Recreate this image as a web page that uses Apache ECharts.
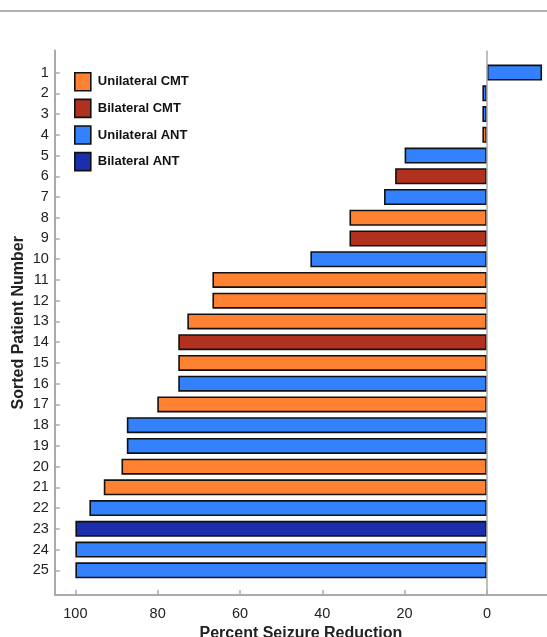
<!DOCTYPE html>
<html>
<head>
<meta charset="utf-8">
<script src="https://cdn.jsdelivr.net/npm/echarts@6/dist/echarts.min.js"></script>
<style>
html,body{margin:0;padding:0;background:#fff;}
#chart{width:547px;height:637px;}
</style>
</head>
<body>
<div id="chart"></div>
<script>
// Sorted patient numbers (top to bottom)
const patients = ['1','2','3','4','5','6','7','8','9','10','11','12','13','14','15','16','17','18','19','20','21','22','23','24','25'];
// Percent seizure reduction per patient
const reduction = [-13.4, 1.1, 1.1, 1.1, 20.0, 22.3, 25.0, 33.4, 33.4, 42.9, 66.7, 66.7, 72.8, 75.0, 75.0, 75.0, 80.1, 87.5, 87.5, 88.8, 93.1, 96.6, 100, 100, 100];
// Treatment group per patient
const groupOf = ['Unilateral ANT','Unilateral ANT','Unilateral ANT','Unilateral CMT','Unilateral ANT','Bilateral CMT','Unilateral ANT','Unilateral CMT','Bilateral CMT','Unilateral ANT','Unilateral CMT','Unilateral CMT','Unilateral CMT','Bilateral CMT','Unilateral CMT','Unilateral ANT','Unilateral CMT','Unilateral ANT','Unilateral ANT','Unilateral CMT','Unilateral CMT','Unilateral ANT','Bilateral ANT','Unilateral ANT','Unilateral ANT'];
const groups = ['Unilateral CMT','Bilateral CMT','Unilateral ANT','Bilateral ANT'];
const groupColors = ['#FF8232','#B0321E','#3381FD','#1B2EAB'];
const xTicks = [100, 80, 60, 40, 20, 0];
const xMin = -14.6, xMax = 105;

const axisGray = '#AAAAAA';
const font = '"Liberation Sans", Arial, Helvetica, sans-serif';

const barSeries = groups.map((g, gi) => ({
  name: g,
  type: 'bar',
  xAxisIndex: 1,
  yAxisIndex: 1,
  barWidth: 16,
  barGap: '-100%',
  itemStyle: { color: groupColors[gi], borderColor: '#111', borderWidth: 1.6 },
  data: reduction.map((v, i) => groupOf[i] === g ? v : '-')
}));

const chart = echarts.init(document.getElementById('chart'), null, {renderer: 'canvas'});
chart.setOption({
  backgroundColor: '#fff',
  animation: false,
  textStyle: { fontFamily: font },
  graphic: [{
    type: 'line', shape: { x1: 0, y1: 11, x2: 547, y2: 11 },
    style: { stroke: '#9A9A9A', lineWidth: 1.5 }
  }],
  grid: [
    { left: 54.8, right: 0, top: 50.5, bottom: 42, outerBoundsMode: 'none', containLabel: false },
    { left: 54.8, right: 0, top: 62.2, bottom: 56.3, outerBoundsMode: 'none', containLabel: false }
  ],
  legend: {
    data: groups,
    orient: 'vertical',
    left: 74,
    top: 72,
    padding: 0,
    icon: 'rect',
    itemWidth: 16,
    itemHeight: 18,
    itemGap: 7,
    textStyle: { fontFamily: font, fontWeight: 'bold', fontSize: 13, color: '#111', padding: [0, 0, 0, 2] },
    itemStyle: { borderColor: '#111', borderWidth: 1.6 }
  },
  xAxis: [
    {
      gridIndex: 0, type: 'value', inverse: true, min: xMin, max: xMax,
      axisLine: { show: true, onZero: false, lineStyle: { color: axisGray, width: 2 } },
      axisTick: { show: true, inside: true, length: 5, customValues: xTicks, lineStyle: { color: axisGray, width: 1.5 } },
      axisLabel: { customValues: xTicks, fontSize: 14.5, color: '#222', margin: 11, fontFamily: font },
      splitLine: { show: false },
      name: 'Percent Seizure Reduction', nameLocation: 'middle', nameGap: 29,
      nameTextStyle: { fontSize: 16, fontWeight: 'bold', color: '#222', fontFamily: font }
    },
    {
      gridIndex: 1, type: 'value', inverse: true, min: xMin, max: xMax,
      show: false, splitLine: { show: false }
    }
  ],
  yAxis: [
    {
      gridIndex: 0, type: 'value', min: 0, max: 1,
      axisLine: { show: true, onZero: false, lineStyle: { color: axisGray, width: 2 } },
      axisTick: { show: false }, axisLabel: { show: false }, splitLine: { show: false },
      name: 'Sorted Patient Number', nameLocation: 'middle', nameGap: 28,
      nameTextStyle: { fontSize: 16, fontWeight: 'bold', color: '#222', fontFamily: font }
    },
    {
      gridIndex: 1, type: 'category', inverse: true, data: patients,
      axisLine: { show: false, onZero: false },
      axisTick: { show: true, inside: true, length: 5, alignWithLabel: true, lineStyle: { color: axisGray, width: 1.5 } },
      axisLabel: { fontSize: 14.5, color: '#222', margin: 6, fontFamily: font },
      splitLine: { show: false }
    }
  ],
  series: [
    {
      type: 'scatter', xAxisIndex: 0, yAxisIndex: 0, data: [[0, 0]], symbolSize: 0,
      silent: true, legendHoverLink: false,
      markLine: {
        silent: true, symbol: 'none', label: { show: false },
        lineStyle: { color: axisGray, width: 1.5, type: 'solid' },
        data: [{ xAxis: 0 }]
      }
    }
  ].concat(barSeries)
});
</script>
</body>
</html>
